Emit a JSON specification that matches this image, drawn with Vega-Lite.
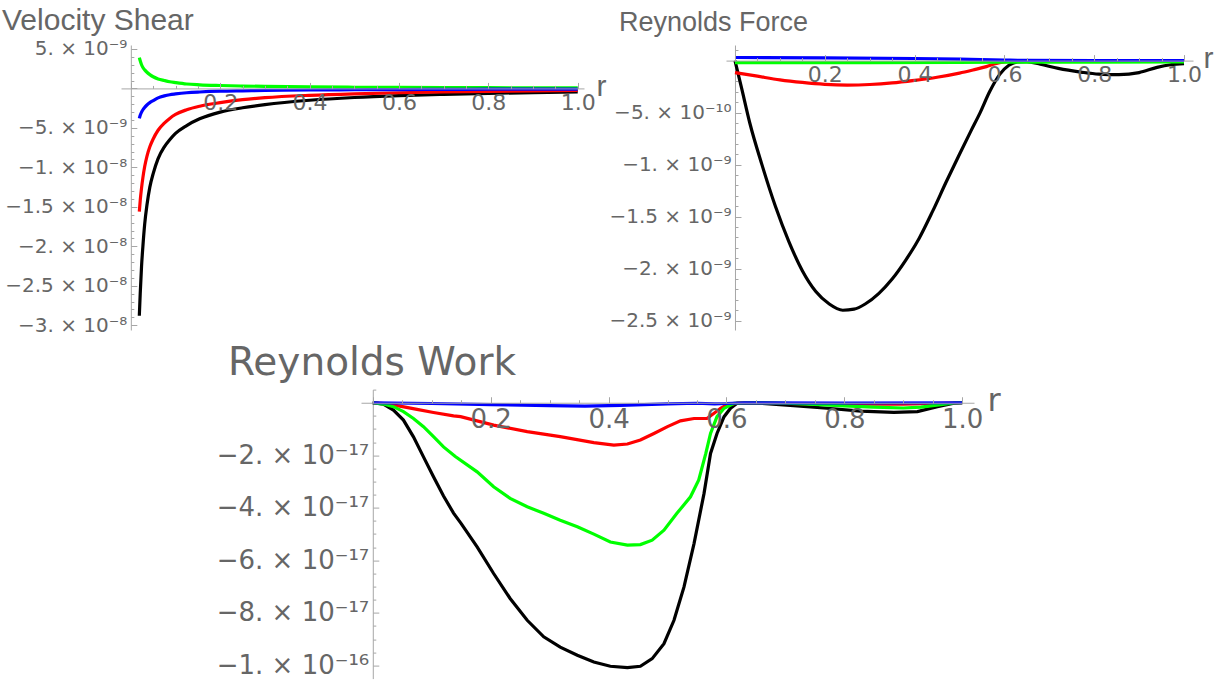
{
  "$schema": "https://vega.github.io/schema/vega-lite/v6.json",
  "autosize": {"type": "none"},
  "padding": {"left": 121, "top": 45, "right": 1104, "bottom": 639},
  "background": "#ffffff",
  "config": {
    "view": {"stroke": null},
    "axis": {"grid": false, "domainColor": "#a6a6a6", "tickColor": "#a6a6a6", "domainWidth": 1, "tickWidth": 1, "labelColor": "#666666", "titleColor": "#666666", "labelFont": "DejaVu Sans", "titleFont": "Liberation Sans", "titleFontWeight": "normal", "labelOverlap": false, "labelFlush": false, "labelBound": false},
    "title": {"font": "Liberation Sans", "fontWeight": "normal", "color": "#666666", "anchor": "start", "frame": "group", "baseline": "alphabetic"},
    "line": {"strokeWidth": 3.2}
  },
  "datasets": {
    "shear": [
      {"s":"black","r":0.019,"v":-2.88e-8},{"s":"black","r":0.021,"v":-2.6e-8},{"s":"black","r":0.024,"v":-2.25e-8},{"s":"black","r":0.027,"v":-2.0e-8},{"s":"black","r":0.031,"v":-1.72e-8},{"s":"black","r":0.036,"v":-1.48e-8},{"s":"black","r":0.0425,"v":-1.25e-8},{"s":"black","r":0.05,"v":-1.08e-8},{"s":"black","r":0.061,"v":-8.9e-9},{"s":"black","r":0.075,"v":-7.4e-9},{"s":"black","r":0.087,"v":-6.5e-9},{"s":"black","r":0.1,"v":-5.7e-9},{"s":"black","r":0.125,"v":-4.7e-9},{"s":"black","r":0.154,"v":-3.85e-9},{"s":"black","r":0.2,"v":-3.0e-9},{"s":"black","r":0.25,"v":-2.45e-9},{"s":"black","r":0.3,"v":-2.05e-9},{"s":"black","r":0.4,"v":-1.5e-9},{"s":"black","r":0.5,"v":-1.15e-9},{"s":"black","r":0.6,"v":-9.2e-10},{"s":"black","r":0.7,"v":-7.6e-10},{"s":"black","r":0.8,"v":-6.3e-10},{"s":"black","r":0.9,"v":-5.3e-10},{"s":"black","r":1.0,"v":-4.5e-10},
      {"s":"red","r":0.019,"v":-1.56e-8},{"s":"red","r":0.021,"v":-1.42e-8},{"s":"red","r":0.024,"v":-1.26e-8},{"s":"red","r":0.027,"v":-1.13e-8},{"s":"red","r":0.031,"v":-9.9e-9},{"s":"red","r":0.036,"v":-8.6e-9},{"s":"red","r":0.0425,"v":-7.4e-9},{"s":"red","r":0.05,"v":-6.4e-9},{"s":"red","r":0.061,"v":-5.3e-9},{"s":"red","r":0.075,"v":-4.4e-9},{"s":"red","r":0.087,"v":-3.8e-9},{"s":"red","r":0.1,"v":-3.3e-9},{"s":"red","r":0.125,"v":-2.7e-9},{"s":"red","r":0.154,"v":-2.25e-9},{"s":"red","r":0.2,"v":-1.8e-9},{"s":"red","r":0.25,"v":-1.42e-9},{"s":"red","r":0.3,"v":-1.17e-9},{"s":"red","r":0.4,"v":-8.7e-10},{"s":"red","r":0.5,"v":-6.8e-10},{"s":"red","r":0.6,"v":-5.5e-10},{"s":"red","r":0.7,"v":-4.5e-10},{"s":"red","r":0.8,"v":-3.7e-10},{"s":"red","r":0.9,"v":-3.0e-10},{"s":"red","r":1.0,"v":-2.5e-10},
      {"s":"green","r":0.019,"v":3.9e-9},{"s":"green","r":0.021,"v":3.5e-9},{"s":"green","r":0.024,"v":3.0e-9},{"s":"green","r":0.027,"v":2.65e-9},{"s":"green","r":0.031,"v":2.35e-9},{"s":"green","r":0.036,"v":2.05e-9},{"s":"green","r":0.0425,"v":1.75e-9},{"s":"green","r":0.05,"v":1.48e-9},{"s":"green","r":0.061,"v":1.2e-9},{"s":"green","r":0.075,"v":1.0e-9},{"s":"green","r":0.087,"v":8.5e-10},{"s":"green","r":0.1,"v":7.4e-10},{"s":"green","r":0.125,"v":5.6e-10},{"s":"green","r":0.154,"v":4.6e-10},{"s":"green","r":0.2,"v":3.7e-10},{"s":"green","r":0.25,"v":3.0e-10},{"s":"green","r":0.3,"v":2.6e-10},{"s":"green","r":0.4,"v":1.9e-10},{"s":"green","r":0.5,"v":1.5e-10},{"s":"green","r":0.6,"v":1.2e-10},{"s":"green","r":0.7,"v":1.0e-10},{"s":"green","r":0.8,"v":9e-11},{"s":"green","r":0.9,"v":8e-11},{"s":"green","r":1.0,"v":7e-11},
      {"s":"blue","r":0.019,"v":-3.8e-9},{"s":"blue","r":0.021,"v":-3.4e-9},{"s":"blue","r":0.024,"v":-3.0e-9},{"s":"blue","r":0.027,"v":-2.7e-9},{"s":"blue","r":0.031,"v":-2.4e-9},{"s":"blue","r":0.036,"v":-2.1e-9},{"s":"blue","r":0.0425,"v":-1.8e-9},{"s":"blue","r":0.05,"v":-1.55e-9},{"s":"blue","r":0.061,"v":-1.2e-9},{"s":"blue","r":0.075,"v":-9.5e-10},{"s":"blue","r":0.087,"v":-8.0e-10},{"s":"blue","r":0.1,"v":-7.0e-10},{"s":"blue","r":0.125,"v":-5.5e-10},{"s":"blue","r":0.154,"v":-4.5e-10},{"s":"blue","r":0.2,"v":-3.5e-10},{"s":"blue","r":0.25,"v":-3.0e-10},{"s":"blue","r":0.3,"v":-2.6e-10},{"s":"blue","r":0.4,"v":-2.0e-10},{"s":"blue","r":0.5,"v":-1.7e-10},{"s":"blue","r":0.6,"v":-1.4e-10},{"s":"blue","r":0.7,"v":-1.2e-10},{"s":"blue","r":0.8,"v":-1.0e-10},{"s":"blue","r":0.9,"v":-9e-11},{"s":"blue","r":1.0,"v":-8e-11}
    ],
    "force": [
      {"s":"black","r":0,"v":0},{"s":"black","r":0.015,"v":-2.7e-10},{"s":"black","r":0.033,"v":-6.0e-10},{"s":"black","r":0.06,"v":-1.0e-9},{"s":"black","r":0.09,"v":-1.4e-9},{"s":"black","r":0.12,"v":-1.74e-9},{"s":"black","r":0.15,"v":-2.02e-9},{"s":"black","r":0.18,"v":-2.22e-9},{"s":"black","r":0.21,"v":-2.34e-9},{"s":"black","r":0.24,"v":-2.4e-9},{"s":"black","r":0.265,"v":-2.39e-9},{"s":"black","r":0.29,"v":-2.34e-9},{"s":"black","r":0.32,"v":-2.24e-9},{"s":"black","r":0.35,"v":-2.1e-9},{"s":"black","r":0.38,"v":-1.92e-9},{"s":"black","r":0.41,"v":-1.71e-9},{"s":"black","r":0.44,"v":-1.45e-9},{"s":"black","r":0.47,"v":-1.17e-9},{"s":"black","r":0.5,"v":-9.0e-10},{"s":"black","r":0.525,"v":-6.8e-10},{"s":"black","r":0.546,"v":-5.0e-10},{"s":"black","r":0.567,"v":-3.0e-10},{"s":"black","r":0.59,"v":-1.3e-10},{"s":"black","r":0.61,"v":-4.5e-11},{"s":"black","r":0.63,"v":-1.2e-11},{"s":"black","r":0.65,"v":-1.0e-11},{"s":"black","r":0.68,"v":-3.5e-11},{"s":"black","r":0.72,"v":-7.5e-11},{"s":"black","r":0.77,"v":-1.1e-10},{"s":"black","r":0.81,"v":-1.3e-10},{"s":"black","r":0.855,"v":-1.35e-10},{"s":"black","r":0.9,"v":-1.15e-10},{"s":"black","r":0.94,"v":-6.5e-11},{"s":"black","r":0.97,"v":-4.0e-11},{"s":"black","r":1.0,"v":-3.0e-11},
      {"s":"red","r":0,"v":-1.15e-10},{"s":"red","r":0.05,"v":-1.5e-10},{"s":"red","r":0.1,"v":-1.85e-10},{"s":"red","r":0.15,"v":-2.1e-10},{"s":"red","r":0.2,"v":-2.28e-10},{"s":"red","r":0.25,"v":-2.35e-10},{"s":"red","r":0.3,"v":-2.3e-10},{"s":"red","r":0.35,"v":-2.15e-10},{"s":"red","r":0.4,"v":-1.9e-10},{"s":"red","r":0.45,"v":-1.6e-10},{"s":"red","r":0.5,"v":-1.2e-10},{"s":"red","r":0.53,"v":-9.0e-11},{"s":"red","r":0.56,"v":-5.8e-11},{"s":"red","r":0.58,"v":-3.0e-11},{"s":"red","r":0.6,"v":-1.3e-11},{"s":"red","r":0.62,"v":-5e-12},{"s":"red","r":0.7,"v":-4e-12},{"s":"red","r":0.8,"v":-4e-12},{"s":"red","r":0.9,"v":-3e-12},{"s":"red","r":1.0,"v":-2e-12},
      {"s":"green","r":0,"v":-2.0e-11},{"s":"green","r":0.3,"v":-1.9e-11},{"s":"green","r":0.6,"v":-1.6e-11},{"s":"green","r":0.8,"v":-1.4e-11},{"s":"green","r":1.0,"v":-1.2e-11},
      {"s":"blue","r":0,"v":3.0e-11},{"s":"blue","r":0.2,"v":2.7e-11},{"s":"blue","r":0.4,"v":2.0e-11},{"s":"blue","r":0.5,"v":1.4e-11},{"s":"blue","r":0.6,"v":5e-12},{"s":"blue","r":0.65,"v":2e-12},{"s":"blue","r":0.8,"v":1e-12},{"s":"blue","r":1.0,"v":1e-12}
    ],
    "work": [
      {"s":"black","r":0,"v":0},{"s":"black","r":0.018,"v":-5e-19},{"s":"black","r":0.035,"v":-2.8e-18},{"s":"black","r":0.052,"v":-6.6e-18},{"s":"black","r":0.069,"v":-1.3e-17},{"s":"black","r":0.086,"v":-2.06e-17},{"s":"black","r":0.103,"v":-2.82e-17},{"s":"black","r":0.12,"v":-3.55e-17},{"s":"black","r":0.137,"v":-4.2e-17},{"s":"black","r":0.15,"v":-4.6e-17},{"s":"black","r":0.177,"v":-5.49e-17},{"s":"black","r":0.205,"v":-6.5e-17},{"s":"black","r":0.233,"v":-7.45e-17},{"s":"black","r":0.262,"v":-8.28e-17},{"s":"black","r":0.29,"v":-8.91e-17},{"s":"black","r":0.318,"v":-9.3e-17},{"s":"black","r":0.347,"v":-9.61e-17},{"s":"black","r":0.375,"v":-9.87e-17},{"s":"black","r":0.403,"v":-1.003e-16},{"s":"black","r":0.432,"v":-1.008e-16},{"s":"black","r":0.454,"v":-1.003e-16},{"s":"black","r":0.474,"v":-9.74e-17},{"s":"black","r":0.494,"v":-9.17e-17},{"s":"black","r":0.511,"v":-8.28e-17},{"s":"black","r":0.528,"v":-7.01e-17},{"s":"black","r":0.545,"v":-5.36e-17},{"s":"black","r":0.562,"v":-3.45e-17},{"s":"black","r":0.573,"v":-1.93e-17},{"s":"black","r":0.584,"v":-1.17e-17},{"s":"black","r":0.596,"v":-5.3e-18},{"s":"black","r":0.607,"v":-2.1e-18},{"s":"black","r":0.618,"v":-2e-19},{"s":"black","r":0.658,"v":-2e-19},{"s":"black","r":0.714,"v":-1.1e-18},{"s":"black","r":0.771,"v":-2.1e-18},{"s":"black","r":0.828,"v":-3.2e-18},{"s":"black","r":0.884,"v":-3.7e-18},{"s":"black","r":0.924,"v":-3.4e-18},{"s":"black","r":0.958,"v":-1.5e-18},{"s":"black","r":0.986,"v":-2e-19},{"s":"black","r":1.0,"v":0},
      {"s":"red","r":0,"v":0},{"s":"red","r":0.018,"v":-3e-19},{"s":"red","r":0.046,"v":-1.3e-18},{"s":"red","r":0.075,"v":-2.5e-18},{"s":"red","r":0.103,"v":-3.7e-18},{"s":"red","r":0.137,"v":-5.0e-18},{"s":"red","r":0.149,"v":-5.3e-18},{"s":"red","r":0.205,"v":-8.5e-18},{"s":"red","r":0.262,"v":-1.1e-17},{"s":"red","r":0.318,"v":-1.29e-17},{"s":"red","r":0.375,"v":-1.52e-17},{"s":"red","r":0.409,"v":-1.61e-17},{"s":"red","r":0.432,"v":-1.57e-17},{"s":"red","r":0.454,"v":-1.42e-17},{"s":"red","r":0.477,"v":-1.17e-17},{"s":"red","r":0.5,"v":-9.1e-18},{"s":"red","r":0.522,"v":-6.9e-18},{"s":"red","r":0.545,"v":-6.0e-18},{"s":"red","r":0.567,"v":-6.0e-18},{"s":"red","r":0.579,"v":-4.0e-18},{"s":"red","r":0.59,"v":-2.1e-18},{"s":"red","r":0.601,"v":-8e-19},{"s":"red","r":0.62,"v":-1e-19},{"s":"red","r":0.65,"v":0},{"s":"red","r":0.7,"v":-3e-19},{"s":"red","r":0.8,"v":-5e-19},{"s":"red","r":0.9,"v":-5e-19},{"s":"red","r":0.95,"v":-3e-19},{"s":"red","r":1.0,"v":0},
      {"s":"green","r":0,"v":0},{"s":"green","r":0.018,"v":-5e-19},{"s":"green","r":0.035,"v":-1.5e-18},{"s":"green","r":0.052,"v":-3.4e-18},{"s":"green","r":0.069,"v":-6.0e-18},{"s":"green","r":0.086,"v":-9.1e-18},{"s":"green","r":0.103,"v":-1.29e-17},{"s":"green","r":0.12,"v":-1.68e-17},{"s":"green","r":0.14,"v":-2.05e-17},{"s":"green","r":0.177,"v":-2.63e-17},{"s":"green","r":0.205,"v":-3.2e-17},{"s":"green","r":0.233,"v":-3.64e-17},{"s":"green","r":0.262,"v":-3.96e-17},{"s":"green","r":0.29,"v":-4.21e-17},{"s":"green","r":0.318,"v":-4.47e-17},{"s":"green","r":0.347,"v":-4.72e-17},{"s":"green","r":0.375,"v":-5.0e-17},{"s":"green","r":0.403,"v":-5.3e-17},{"s":"green","r":0.432,"v":-5.42e-17},{"s":"green","r":0.454,"v":-5.4e-17},{"s":"green","r":0.474,"v":-5.23e-17},{"s":"green","r":0.494,"v":-4.85e-17},{"s":"green","r":0.516,"v":-4.21e-17},{"s":"green","r":0.539,"v":-3.58e-17},{"s":"green","r":0.553,"v":-2.94e-17},{"s":"green","r":0.565,"v":-1.93e-17},{"s":"green","r":0.573,"v":-1.17e-17},{"s":"green","r":0.584,"v":-5.3e-18},{"s":"green","r":0.596,"v":-2.1e-18},{"s":"green","r":0.613,"v":-2e-19},{"s":"green","r":0.65,"v":0},{"s":"green","r":0.7,"v":-2e-19},{"s":"green","r":0.75,"v":-6e-19},{"s":"green","r":0.8,"v":-1.2e-18},{"s":"green","r":0.85,"v":-1.7e-18},{"s":"green","r":0.9,"v":-2.0e-18},{"s":"green","r":0.93,"v":-1.7e-18},{"s":"green","r":0.96,"v":-8e-19},{"s":"green","r":0.986,"v":-1e-19},{"s":"green","r":1.0,"v":0},
      {"s":"blue","r":0,"v":0},{"s":"blue","r":0.1,"v":-3e-19},{"s":"blue","r":0.2,"v":-7e-19},{"s":"blue","r":0.3,"v":-1.1e-18},{"s":"blue","r":0.36,"v":-1.3e-18},{"s":"blue","r":0.42,"v":-1.0e-18},{"s":"blue","r":0.5,"v":-4e-19},{"s":"blue","r":0.55,"v":-2e-19},{"s":"blue","r":0.58,"v":-4e-19},{"s":"blue","r":0.6,"v":-3e-19},{"s":"blue","r":0.63,"v":0},{"s":"blue","r":0.8,"v":-1e-19},{"s":"blue","r":1.0,"v":0}
    ]
  },
  "columns": 2,
  "align": "each",
  "bounds": "flush",
  "spacing": {"row": 59.6, "column": 142},
  "resolve": {"scale": {"x": "independent", "y": "independent"}},
  "concat": [
    {
      "width": 463, "height": 285,
      "title": {"text": "Velocity Shear", "fontSize": 30, "dx": -119, "dy": -3, "offset": 0},
      "data": {"name": "shear"},
      "mark": {"type": "line", "interpolate": "monotone", "strokeWidth": 3.2},
      "encoding": {
        "x": {"field": "r", "type": "quantitative",
          "scale": {"domain": [-0.022, 1.014], "nice": false, "zero": false},
          "axis": {"orient": "bottom", "offset": -241.58, "zindex": 1,
            "values": [0,0.05,0.1,0.15,0.2,0.25,0.3,0.35,0.4,0.45,0.5,0.55,0.6,0.65,0.7,0.75,0.8,0.85,0.9,0.95,1],
            "labelExpr": "(abs(datum.value/0.2-round(datum.value/0.2))>0.01 || datum.value<0.01) ? '' : format(datum.value,'.1f')",
            "tickSize": {"condition": {"test": "abs(datum.value/0.2-round(datum.value/0.2))<0.01", "value": -6}, "value": -3},
            "labelPadding": 10, "labelFontSize": 22, "labelBaseline": "top", "labelAlign": "center",
            "title": "r", "titleFontSize": 30, "titleX": 475, "titleY": -2, "titleAlign": "left", "titleBaseline": "middle", "titleAngle": 0}},
        "y": {"field": "v", "type": "quantitative",
          "scale": {"domain": [-3.06e-8, 5.5e-9], "nice": false, "zero": false},
          "axis": {"orient": "left", "offset": -9.83,
            "values": [5e-9,4e-9,3e-9,2e-9,1e-9,0,-1e-9,-2e-9,-3e-9,-4e-9,-5e-9,-6e-9,-7e-9,-8e-9,-9e-9,-1e-8,-1.1e-8,-1.2e-8,-1.3e-8,-1.4e-8,-1.5e-8,-1.6e-8,-1.7e-8,-1.8e-8,-1.9e-8,-2e-8,-2.1e-8,-2.2e-8,-2.3e-8,-2.4e-8,-2.5e-8,-2.6e-8,-2.7e-8,-2.8e-8,-2.9e-8,-3e-8],
            "labelExpr": "abs(datum.value/5e-9-round(datum.value/5e-9))>0.01 ? '' : ['−3. × 10⁻⁸','−2.5 × 10⁻⁸','−2. × 10⁻⁸','−1.5 × 10⁻⁸','−1. × 10⁻⁸','−5. × 10⁻⁹','','5. × 10⁻⁹'][round(datum.value/5e-9)+6]",
            "tickSize": {"condition": {"test": "abs(datum.value/5e-9-round(datum.value/5e-9))<0.01", "value": -6}, "value": -3},
            "labelPadding": 10, "labelFontSize": 20, "title": null}},
        "color": {"field": "s", "type": "nominal",
          "scale": {"domain": ["black","red","green","blue"], "range": ["#000000","#ff0000","#00ff00","#0000ff"]},
          "legend": null}
      }
    },
    {
      "width": 467, "height": 285,
      "title": {"text": "Reynolds Force", "fontSize": 27, "dx": -107, "dy": -2, "offset": 1},
      "data": {"name": "force"},
      "mark": {"type": "line", "interpolate": "monotone", "strokeWidth": 3.2},
      "encoding": {
        "x": {"field": "r", "type": "quantitative",
          "scale": {"domain": [-0.02, 1.02], "nice": false, "zero": false},
          "axis": {"orient": "bottom", "offset": -269.4, "zindex": 1,
            "values": [0,0.05,0.1,0.15,0.2,0.25,0.3,0.35,0.4,0.45,0.5,0.55,0.6,0.65,0.7,0.75,0.8,0.85,0.9,0.95,1],
            "labelExpr": "(abs(datum.value/0.2-round(datum.value/0.2))>0.01 || datum.value<0.01) ? '' : format(datum.value,'.1f')",
            "tickSize": {"condition": {"test": "abs(datum.value/0.2-round(datum.value/0.2))<0.01", "value": -6}, "value": -3},
            "labelPadding": 10, "labelFontSize": 22, "labelBaseline": "top", "labelAlign": "center",
            "title": "r", "titleFontSize": 30, "titleX": 477, "titleY": -2, "titleAlign": "left", "titleBaseline": "middle", "titleAngle": 0}},
        "y": {"field": "v", "type": "quantitative",
          "scale": {"domain": [-2.59e-9, 1.5e-10], "nice": false, "zero": false},
          "axis": {"orient": "left", "offset": -8.98,
            "values": [1e-10,0,-1e-10,-2e-10,-3e-10,-4e-10,-5e-10,-6e-10,-7e-10,-8e-10,-9e-10,-1e-9,-1.1e-9,-1.2e-9,-1.3e-9,-1.4e-9,-1.5e-9,-1.6e-9,-1.7e-9,-1.8e-9,-1.9e-9,-2e-9,-2.1e-9,-2.2e-9,-2.3e-9,-2.4e-9,-2.5e-9],
            "labelExpr": "abs(datum.value/5e-10-round(datum.value/5e-10))>0.01 ? '' : ['−2.5 × 10⁻⁹','−2. × 10⁻⁹','−1.5 × 10⁻⁹','−1. × 10⁻⁹','−5. × 10⁻¹⁰',''][round(datum.value/5e-10)+5]",
            "tickSize": {"condition": {"test": "abs(datum.value/5e-10-round(datum.value/5e-10))<0.01", "value": -6}, "value": -3},
            "labelPadding": 10, "labelFontSize": 20, "title": null}},
        "color": {"field": "s", "type": "nominal",
          "scale": {"domain": ["black","red","green","blue"], "range": ["#000000","#ff0000","#00ff00","#0000ff"]},
          "legend": null}
      }
    },
    {
      "width": 463, "height": 289,
      "title": {"text": "Reynolds Work", "fontSize": 39, "font": "DejaVu Sans", "dx": 107, "dy": 6, "offset": 0},
      "data": {"name": "work"},
      "mark": {"type": "line", "interpolate": "linear", "strokeWidth": 3.2},
      "encoding": {
        "x": {"field": "r", "type": "quantitative",
          "scale": {"domain": [-0.02, 1.02], "range": [240, 853], "nice": false, "zero": false},
          "axis": {"orient": "bottom", "offset": -275.86, "zindex": 1,
            "values": [0,0.05,0.1,0.15,0.2,0.25,0.3,0.35,0.4,0.45,0.5,0.55,0.6,0.65,0.7,0.75,0.8,0.85,0.9,0.95,1],
            "labelExpr": "(abs(datum.value/0.2-round(datum.value/0.2))>0.01 || datum.value<0.01) ? '' : format(datum.value,'.1f')",
            "tickSize": {"condition": {"test": "abs(datum.value/0.2-round(datum.value/0.2))<0.01", "value": -6}, "value": -3},
            "labelPadding": 10, "labelFontSize": 26, "labelBaseline": "top", "labelAlign": "center",
            "title": "r", "titleFont": "DejaVu Sans", "titleFontSize": 32, "titleX": 866, "titleY": -2, "titleAlign": "left", "titleBaseline": "middle", "titleAngle": 0}},
        "y": {"field": "v", "type": "quantitative",
          "scale": {"domain": [-1.05e-16, 5e-18], "nice": false, "zero": false},
          "axis": {"orient": "left", "offset": -251.79,
            "values": [5e-18,0,-5e-18,-1e-17,-1.5e-17,-2e-17,-2.5e-17,-3e-17,-3.5e-17,-4e-17,-4.5e-17,-5e-17,-5.5e-17,-6e-17,-6.5e-17,-7e-17,-7.5e-17,-8e-17,-8.5e-17,-9e-17,-9.5e-17,-1e-16],
            "labelExpr": "abs(datum.value/2e-17-round(datum.value/2e-17))>0.01 ? '' : ['−1. × 10⁻¹⁶','−8. × 10⁻¹⁷','−6. × 10⁻¹⁷','−4. × 10⁻¹⁷','−2. × 10⁻¹⁷',''][round(datum.value/2e-17)+5]",
            "tickSize": {"condition": {"test": "abs(datum.value/2e-17-round(datum.value/2e-17))<0.01", "value": -6}, "value": -3},
            "labelPadding": 10, "labelFontSize": 26, "title": null}},
        "color": {"field": "s", "type": "nominal",
          "scale": {"domain": ["black","red","green","blue"], "range": ["#000000","#ff0000","#00ff00","#0000ff"]},
          "legend": null}
      }
    }
  ]
}
